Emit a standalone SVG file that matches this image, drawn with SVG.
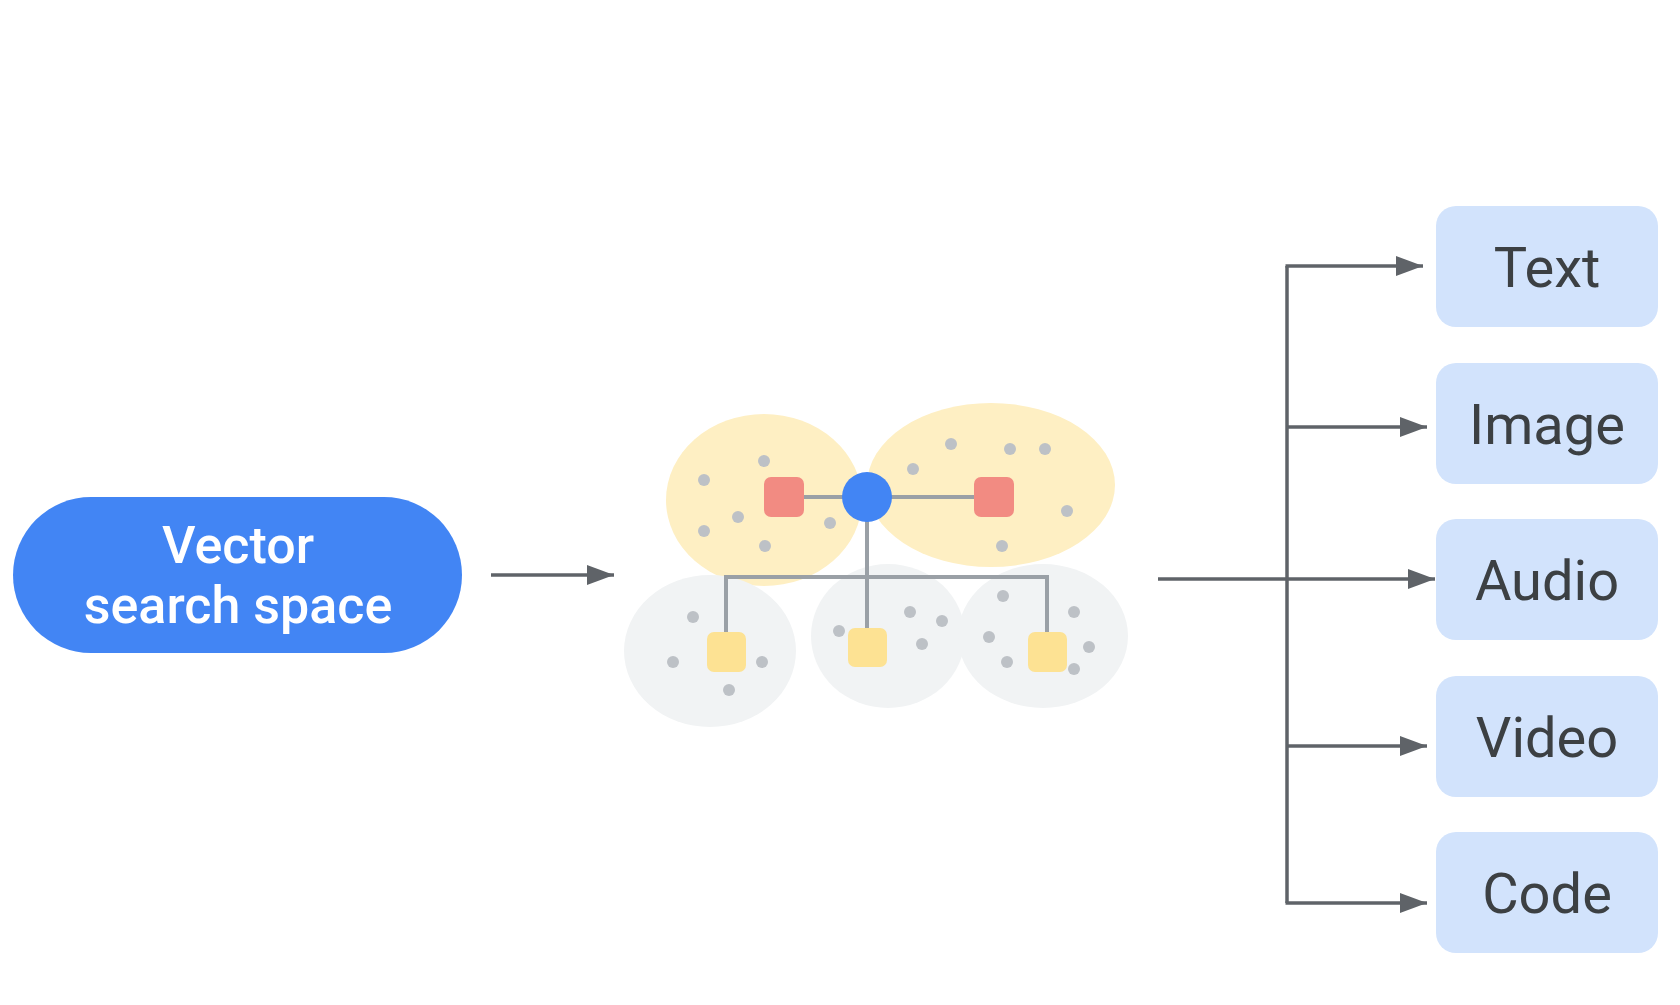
<svg xmlns="http://www.w3.org/2000/svg" width="1680" height="1005" viewBox="0 0 1680 1005">
<style>
.conn{stroke:#5f6368;stroke-width:3.5;fill:none}
.link{stroke:#9aa0a6;stroke-width:4;fill:none}
.box{fill:#d2e3fc}
.lbl{font-family:Roboto,"Liberation Sans",sans-serif;font-size:56px;fill:#3c4043;text-anchor:middle}
.pill{font-family:Roboto,"Liberation Sans",sans-serif;font-size:52px;font-weight:500;fill:#ffffff;text-anchor:middle}
.dot{fill:#bdc1c6}
.yel{fill:#feefc3}
.gry{fill:#f1f3f4}
</style>
<defs>
<marker id="ah" markerUnits="userSpaceOnUse" markerWidth="27" markerHeight="20" refX="27" refY="10" orient="auto">
<path d="M0,0 L27,10 L0,20 Z" fill="#5f6368"/>
</marker>
</defs>
<rect width="1680" height="1005" fill="#ffffff"/>
<g id="source">
<rect x="13" y="497" width="449" height="156" rx="78" fill="#4285f4"/>
<text class="pill" x="238" y="563">Vector</text>
<text class="pill" x="238" y="623">search space</text>
</g>
<g id="cluster">
<ellipse class="yel" cx="764" cy="500" rx="98" ry="86"/>
<ellipse class="yel" cx="991" cy="485" rx="124" ry="82"/>
<ellipse class="gry" cx="710" cy="651" rx="86" ry="76"/>
<ellipse class="gry" cx="888" cy="636" rx="77" ry="72"/>
<ellipse class="gry" cx="1043" cy="636" rx="85" ry="72"/>
<path class="link" d="M804,497 H867 M867,497 H974 M867,497 V628 M726,632 V577 H1047 V632"/>
<g>
<circle class="dot" cx="764" cy="461" r="6"/><circle class="dot" cx="704" cy="480" r="6"/><circle class="dot" cx="738" cy="517" r="6"/><circle class="dot" cx="704" cy="531" r="6"/><circle class="dot" cx="765" cy="546" r="6"/><circle class="dot" cx="830" cy="523" r="6"/>
<circle class="dot" cx="951" cy="444" r="6"/><circle class="dot" cx="913" cy="469" r="6"/><circle class="dot" cx="1010" cy="449" r="6"/><circle class="dot" cx="1045" cy="449" r="6"/><circle class="dot" cx="1067" cy="511" r="6"/><circle class="dot" cx="1002" cy="546" r="6"/>
<circle class="dot" cx="693" cy="617" r="6"/><circle class="dot" cx="673" cy="662" r="6"/><circle class="dot" cx="762" cy="662" r="6"/><circle class="dot" cx="729" cy="690" r="6"/>
<circle class="dot" cx="839" cy="631" r="6"/><circle class="dot" cx="910" cy="612" r="6"/><circle class="dot" cx="942" cy="621" r="6"/><circle class="dot" cx="922" cy="644" r="6"/>
<circle class="dot" cx="1003" cy="596" r="6"/><circle class="dot" cx="989" cy="637" r="6"/><circle class="dot" cx="1007" cy="662" r="6"/><circle class="dot" cx="1074" cy="612" r="6"/><circle class="dot" cx="1089" cy="647" r="6"/><circle class="dot" cx="1074" cy="669" r="6"/>
</g>
<rect x="764" y="477" width="40" height="40" rx="7" fill="#f28b82"/>
<rect x="974" y="477" width="40" height="40" rx="7" fill="#f28b82"/>
<rect x="707" y="632" width="39" height="40" rx="7" fill="#fde293"/>
<rect x="848" y="628" width="39" height="39" rx="7" fill="#fde293"/>
<rect x="1028" y="632" width="39" height="40" rx="7" fill="#fde293"/>
<circle cx="867" cy="497" r="25" fill="#4285f4"/>
</g>
<g id="connectors">
<path class="conn" d="M491,575 H614" marker-end="url(#ah)"/>
<path class="conn" d="M1158,579 H1435" marker-end="url(#ah)"/>
<path class="conn" d="M1287,266 V903"/>
<path class="conn" d="M1285.5,266 H1423" marker-end="url(#ah)"/>
<path class="conn" d="M1287,427 H1427" marker-end="url(#ah)"/>
<path class="conn" d="M1287,746 H1427" marker-end="url(#ah)"/>
<path class="conn" d="M1285.5,903 H1427" marker-end="url(#ah)"/>
</g>
<g id="text-node"><rect class="box" x="1436" y="206" width="222" height="121" rx="20"/><text class="lbl" x="1547" y="287">Text</text></g>
<g id="image-node"><rect class="box" x="1436" y="363" width="222" height="121" rx="20"/><text class="lbl" x="1547" y="444">Image</text></g>
<g id="audio-node"><rect class="box" x="1436" y="519" width="222" height="121" rx="20"/><text class="lbl" x="1547" y="600">Audio</text></g>
<g id="video-node"><rect class="box" x="1436" y="676" width="222" height="121" rx="20"/><text class="lbl" x="1547" y="757">Video</text></g>
<g id="code-node"><rect class="box" x="1436" y="832" width="222" height="121" rx="20"/><text class="lbl" x="1547" y="913">Code</text></g>
</svg>
